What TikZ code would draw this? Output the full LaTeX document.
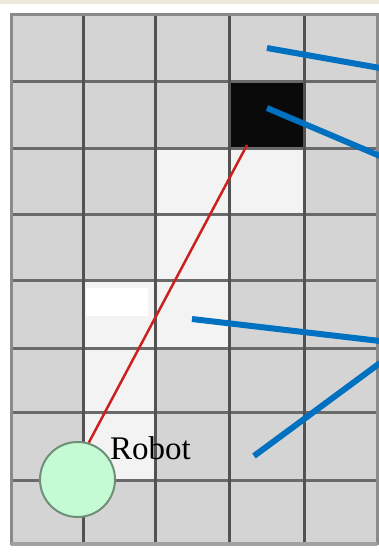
\documentclass[tikz,border=0pt]{standalone}
\usepackage{fontspec}
\setmainfont{Liberation Serif}
\definecolor{cellgray}{HTML}{D4D4D4}
\definecolor{celllight}{HTML}{F3F3F3}
\definecolor{vline}{HTML}{525252}
\definecolor{hline}{HTML}{6A6A6A}
\definecolor{border}{HTML}{8A8A8A}
\definecolor{beige}{HTML}{ECE9DA}
\definecolor{robotfill}{HTML}{C4FBD4}
\definecolor{robotdraw}{HTML}{6F8F78}
\definecolor{raycol}{HTML}{CC2020}
\definecolor{pointer}{HTML}{0070C0}
\begin{document}
\begin{tikzpicture}[x=1pt,y=-1pt,
  vgrid/.style={draw=vline,line width=3pt},
  hgrid/.style={draw=hline,line width=3pt},
  lightcell/.style={fill=celllight},
  ray/.style={draw=raycol,line width=2.5pt},
  pointerline/.style={draw=pointer,line width=6pt},
  robotbody/.style={circle,minimum size=75pt,inner sep=0pt,fill=robotfill,draw=robotdraw,line width=2pt},
  robotlabel/.style={font=\fontsize{33}{33}\selectfont,text=black,inner sep=0pt,anchor=base west}]
\useasboundingbox (0,0) rectangle (379,552);
\fill[white] (0,0) rectangle (379,552);
\fill[beige] (0,0) rectangle (379,4);
% cells
\fill[cellgray] (11,14.5) rectangle (377,545);
\fill[lightcell] (155,148) rectangle (304,214);
\fill[lightcell] (155,214) rectangle (229,280);
\fill[lightcell] (83,280) rectangle (229,348);
\fill[lightcell] (83,348) rectangle (155,480);
\fill[white] (86,288) rectangle (148,316);
\fill[black!96] (229,81) rectangle (304,148);
% grid lines
\foreach \y in {81,148,214,280,348,412,480} \draw[hgrid] (11,\y) -- (377,\y);
\foreach \x in {83,155,229,304} \draw[vgrid] (\x,14.5) -- (\x,545);
\draw[draw=border,line width=3pt] (11,545) -- (11,14.5) -- (377,14.5) -- (377,545);
\draw[draw=border!80,line width=4pt] (11,544) -- (377,544);
% robot
\node[robotbody] (robot) at (77.5,479.5) {};
\node[robotlabel] (robotlbl) at (110,459) {Robot};
\coordinate (target) at (247,145);
\draw[ray] (robot.73) -- (target);
% pointer lines
\coordinate (p1a) at (267,48);  \coordinate (p1b) at (380,68);
\coordinate (p2a) at (267,108); \coordinate (p2b) at (380,156);
\coordinate (p3a) at (192,319); \coordinate (p3b) at (380,341);
\coordinate (p4a) at (254,456); \coordinate (p4b) at (380,363);
\draw[pointerline] (p1a) -- (p1b);
\draw[pointerline] (p2a) -- (p2b);
\draw[pointerline] (p3a) -- (p3b);
\draw[pointerline] (p4a) -- (p4b);
\end{tikzpicture}
\end{document}
